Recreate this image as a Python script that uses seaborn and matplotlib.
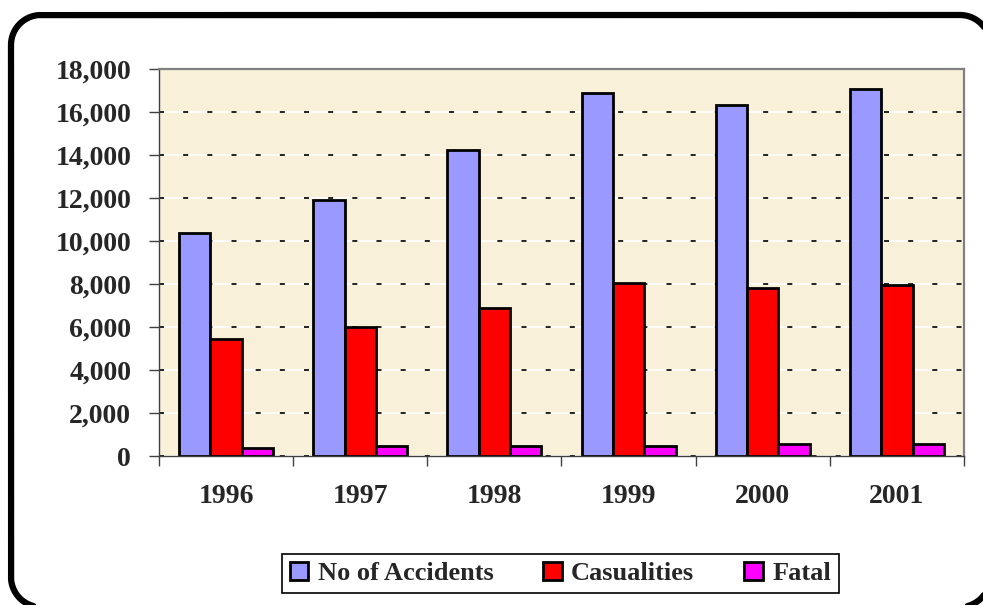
import matplotlib
matplotlib.use("Agg")
import matplotlib.pyplot as plt
import seaborn as sns
import pandas as pd
import numpy as np
from matplotlib.lines import Line2D
from matplotlib.ticker import FuncFormatter, FixedLocator

years = ["1996", "1997", "1998", "1999", "2000", "2001"]
accidents = [10350, 11900, 14230, 16870, 16330, 17070]
casualties = [5430, 6000, 6870, 8060, 7830, 7950]
fatal = [360, 460, 460, 470, 560, 560]
series_names = ["No of Accidents", "Casualities", "Fatal"]
colors = ["#9999FF", "#FF0000", "#FF00FF"]

df = pd.DataFrame({
    "Year": years * 3,
    "Value": accidents + casualties + fatal,
    "Series": [series_names[0]] * 6 + [series_names[1]] * 6 + [series_names[2]] * 6,
})

sns.set_style("white")
plt.rcParams["font.family"] = ["Liberation Serif", "DejaVu Serif"]

W, H = 983, 605
fig = plt.figure(figsize=(W / 100, H / 100), dpi=100)
ax = fig.add_axes([159 / W, 1 - 456 / H, (964 - 159) / W, (456 - 69) / H])

sns.barplot(data=df, x="Year", y="Value", hue="Series", palette=colors,
            width=0.7, edgecolor="black", linewidth=2, saturation=1,
            ax=ax, legend=True)

ax.set_facecolor("#F8F0D9")
ax.set_xlim(-0.5, 5.5)
ax.set_ylim(0, 18000)
ax.set_yticks(range(0, 18001, 2000))
ax.yaxis.set_major_formatter(FuncFormatter(lambda v, p: f"{int(v):,}"))
ax.set_xlabel("")
ax.set_ylabel("")

ax.set_axisbelow(True)
ax.grid(True, axis="y", color="black", linestyle=(0, (3, 11.5)), linewidth=1.2,
        gapcolor="white")
ax.grid(False, axis="x")

for s in ["top", "right"]:
    ax.spines[s].set_color("#808080")
    ax.spines[s].set_linewidth(1.6)
for s in ["left", "bottom"]:
    ax.spines[s].set_color("#404040")
    ax.spines[s].set_linewidth(1.0)

ax.tick_params(axis="y", which="major", direction="out", length=7, width=1,
               color="#404040", pad=13, labelsize=20, left=True)
ax.xaxis.set_minor_locator(FixedLocator([i - 0.5 for i in range(7)]))
ax.tick_params(axis="x", which="minor", direction="out", length=7, width=1,
               color="#404040", bottom=True)
ax.tick_params(axis="x", which="major", length=0, pad=20, labelsize=20)
for lab in ax.get_xticklabels() + ax.get_yticklabels():
    lab.set_fontweight("bold")

handles, labels = ax.get_legend_handles_labels()
ax.legend(handles, labels, loc="center", bbox_to_anchor=(0.570, 0.052),
          bbox_transform=fig.transFigure, ncol=3, frameon=True, fancybox=False,
          edgecolor="black", framealpha=1, borderpad=0.3, columnspacing=1.9,
          handletextpad=0.35, handlelength=0.7, handleheight=0.7,
          prop={"family": "Liberation Serif", "weight": "bold", "size": 19})
ax.get_legend().get_frame().set_linewidth(1.2)

# rounded outer frame as a polyline (pixel coords, y measured from top)
xl, xr, yt, yb, r = 11, 990, 15, 607, 30


def arc(cx, cy, a0, a1):
    t = np.radians(np.linspace(a0, a1, 40))
    return cx + r * np.cos(t), cy - r * np.sin(t)


segs = [
    arc(xr - r, yt + r, 0, 90),      # top-right
    arc(xl + r, yt + r, 90, 180),    # top-left
    arc(xl + r, yb - r, 180, 270),   # bottom-left
    arc(xr - r, yb - r, 270, 360),   # bottom-right
]
fx = np.concatenate([s[0] for s in segs] + [[xr]])
fy = np.concatenate([s[1] for s in segs] + [[yt + r]])
frame = Line2D(fx / W, 1 - fy / H, transform=fig.transFigure, color="black",
               linewidth=4.5, solid_joinstyle="round", solid_capstyle="round")
fig.add_artist(frame)

fig.savefig("out.png", dpi=100, facecolor="white")
